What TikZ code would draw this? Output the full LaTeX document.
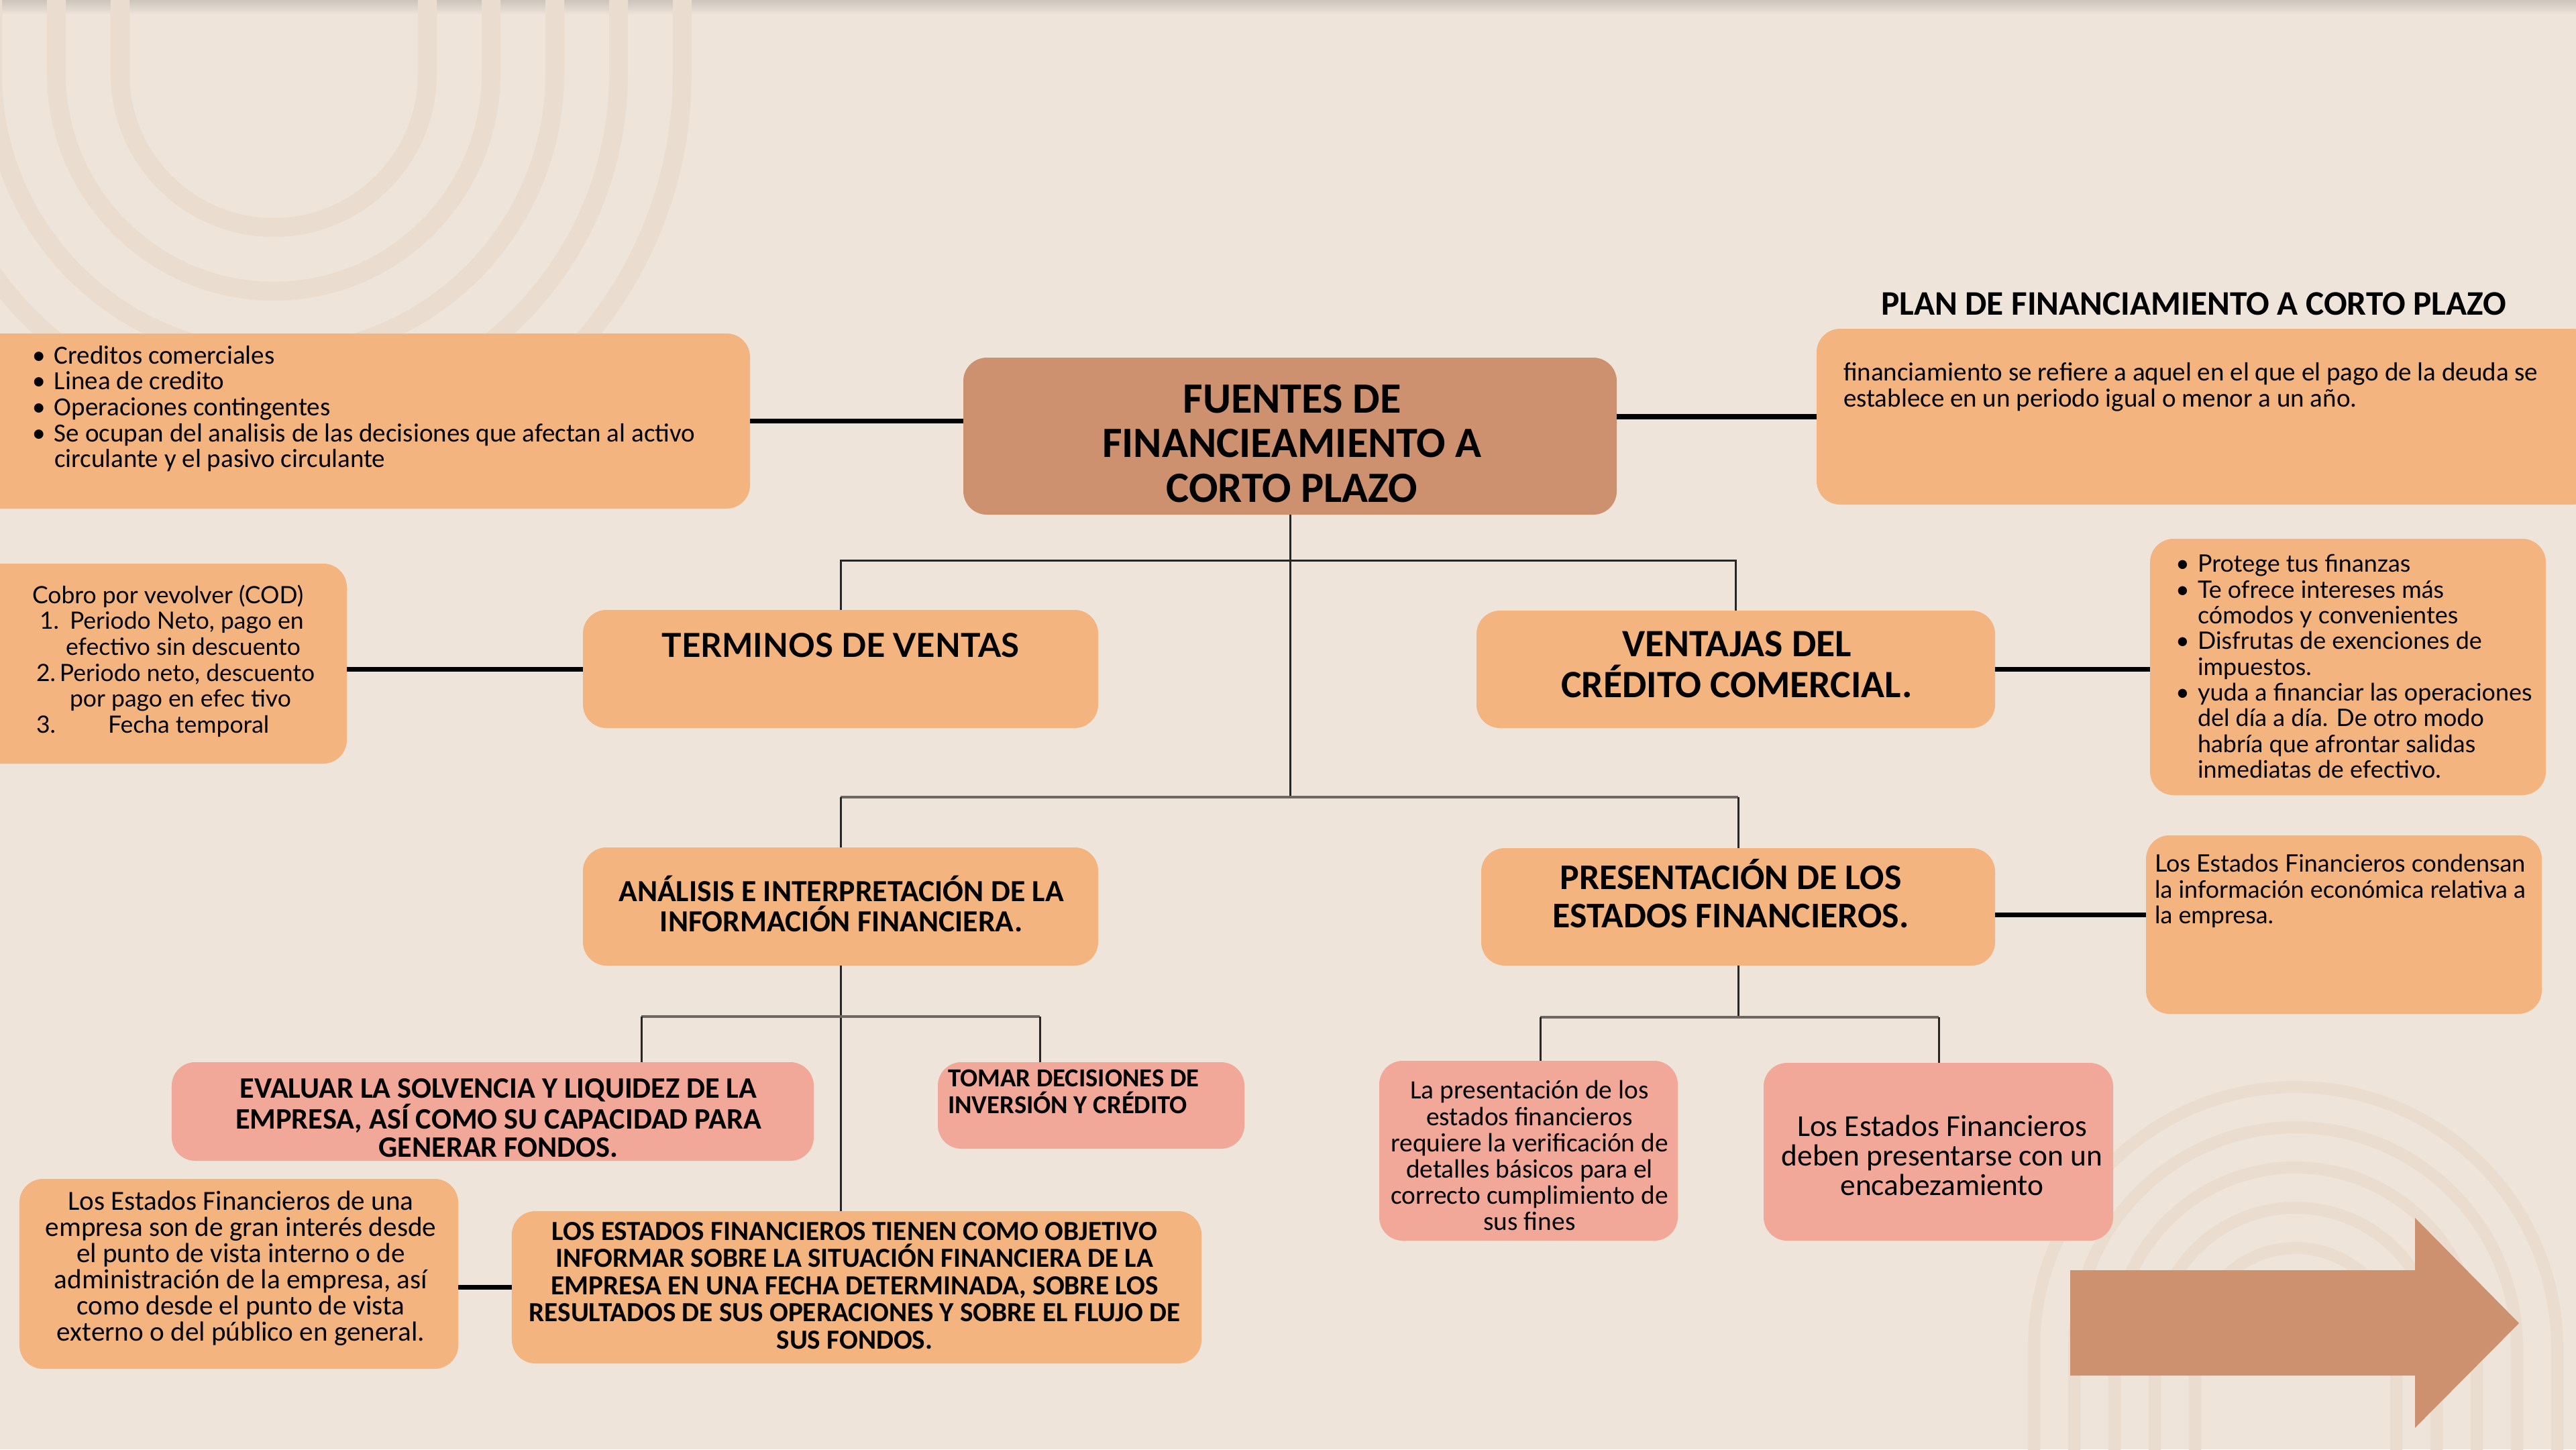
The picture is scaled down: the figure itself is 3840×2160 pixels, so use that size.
\documentclass[tikz,border=0pt]{standalone}
\usepackage{fontspec}
\setmainfont{Carlito}
\newfontfamily\geo{Lato}
\usetikzlibrary{calc}
\definecolor{bg}{HTML}{EEE4DA}
\definecolor{ringc}{HTML}{EADCCE}
\definecolor{orng}{HTML}{F3B47F}
\definecolor{tanbox}{HTML}{CD9170}
\definecolor{pinkbox}{HTML}{F2A898}
\definecolor{lgray}{HTML}{6E6762}
\newcommand\fs[2]{\fontsize{#1}{#2}\selectfont}
\newcommand\bulit{\makebox[0.33cm][l]{\textbullet}}
\newcommand\indnt{\hspace*{0.33cm}}
\newcommand\mkbox[6]{%
  \pgfmathsetmacro\mkbw{(#4-(#2))*0.01}%
  \pgfmathsetmacro\mkbh{(#5-(#3))*0.01}%
  \node[#6, minimum width=\mkbw cm, minimum height=\mkbh cm] (#1) at ({(#2+#4)/2},{(#3+#5)/2}) {};}
\begin{document}
\begin{tikzpicture}[x=0.01cm, y=-0.01cm,
  box/.style={rectangle, rounded corners=0.35cm, inner sep=0pt, outer sep=0pt, draw=none},
  ob/.style={box, fill=orng},
  pb/.style={box, fill=pinkbox},
  tb/.style={box, fill=tanbox},
  txt/.style={inner sep=0pt, outer sep=0pt, text=black},
  conn/.style={line width=2pt, black},
  tree/.style={line width=0.85pt, black!85},
  gbar/.style={line width=1.4pt, lgray},
  rng/.style={draw=ringc, line width=0.28cm},
  rngs/.style={draw=ringc, line width=0.18cm}]
\useasboundingbox (0,0) rectangle (3840,2160);
\clip (0,0) rectangle (3840,2160);
\fill[bg] (0,0) rectangle (3840,2160);
\shade[top color=black!14!bg, bottom color=bg] (0,0) rectangle (3840,22);
% background rings
\foreach \r in {229,324,419,514,609} {
  \draw[rng] ({408-\r},-40) -- ({408-\r},110) arc[start angle=180, end angle=0, radius=\r] -- ({408+\r},-40);
}
\foreach \r in {150,210,270,330,390} {
  \draw[rngs] ({3422-\r},2200) -- ({3422-\r},2010) arc[start angle=180, end angle=360, radius=\r] -- ({3422+\r},2200);
}
% arrow
\fill[tanbox] (3086,1893) -- (3600,1893) -- (3600,1815) -- (3755,1972) -- (3600,2128) -- (3600,2050) -- (3086,2050) -- cycle;
% boxes
\mkbox{bulL}{-40}{497}{1118}{758}{ob}
\mkbox{title}{1436}{533}{2410}{767}{tb}
\mkbox{defR}{2708}{490}{3870}{752}{ob}
\mkbox{cod}{-40}{840}{517}{1138}{ob}
\mkbox{term}{869}{909}{1637}{1085}{ob}
\mkbox{vent}{2201}{910}{2974}{1085}{ob}
\mkbox{venB}{3205}{803}{3795}{1185}{ob}
\mkbox{anal}{869}{1263}{1637}{1439}{ob}
\mkbox{pres}{2208}{1264}{2974}{1439}{ob}
\mkbox{edoR}{3199}{1245}{3789}{1511}{ob}
\mkbox{eval}{256}{1583}{1213}{1730}{pb}
\mkbox{tomar}{1398}{1583}{1855}{1712}{pb}
\mkbox{los}{763}{1805}{1791}{2032}{ob}
\mkbox{lbox}{29}{1757}{683}{2040}{ob}
\mkbox{pk1}{2056}{1581}{2501}{1849}{pb}
\mkbox{pk2}{2629}{1584}{3150}{1849}{pb}
% side connectors
\draw[conn] (bulL.east) -- (bulL.east -| title.west);
\draw[conn] (defR.west) -- (defR.west -| title.east);
\draw[conn] (term.west) -- (term.west -| cod.east);
\draw[conn] (vent.east) -- (vent.east -| venB.west);
\draw[conn] ([yshift=-0.12cm]pres.east) -- ([yshift=-0.12cm]pres.east -| edoR.west);
\draw[conn] (los.west) -- (los.west -| lbox.east);
% tree
\coordinate (j1) at (1923,835);
\coordinate (j2) at (1923,1188);
\draw[tree] (title.south) -- (j2);
\draw[tree] (term.north) -- (term.north |- j1) -- (vent.north |- j1) -- (vent.north);
\draw[gbar] (anal.north |- j2) -- (pres.north |- j2);
\draw[tree] (anal.north |- j2) -- (anal.north);
\draw[tree] (pres.north |- j2) -- (pres.north);
\coordinate (k1) at (956,1515);
\coordinate (k2) at (1550,1515);
\draw[tree] (anal.south) -- (anal.south |- los.north);
\draw[gbar] (k1) -- (k2);
\draw[tree] (k1) -- (k1 |- eval.north);
\draw[tree] (k2) -- (k2 |- tomar.north);
\coordinate (m1) at (2296,1516);
\coordinate (m2) at (2890,1516);
\draw[tree] (pres.south) -- (pres.south |- m1);
\draw[gbar] (m1) -- (m2);
\draw[tree] (m1) -- (m1 |- pk1.north);
\draw[tree] (m2) -- (m2 |- pk2.north);
% texts
\node[txt, anchor=west, align=left, font=\fs{11.1}{11}] (bulLT) at (48,609) {\bulit Creditos comerciales\\ \bulit Linea de credito\\ \bulit Operaciones contingentes\\ \bulit Se ocupan del analisis de las decisiones que afectan al activo\\ \indnt circulante y el pasivo circulante};
\node[txt, align=center, font=\bfseries\fs{18.3}{19}] (titleT) at (1926,661) {FUENTES DE\\FINANCIEAMIENTO A\\CORTO PLAZO};
\node[txt, font=\bfseries\fs{14.6}{16}] (planT) at (3270,453) {PLAN DE FINANCIAMIENTO A CORTO PLAZO};
\node[txt, anchor=west, align=left, font=\fs{11.1}{11}] (defRT) at (2748,577) {financiamiento se refiere a aquel en el que el pago de la deuda se\\establece en un periodo igual o menor a un año.};
\node[txt, font=\geo\bfseries\fs{14}{16}] (termT) at (1253,962) {TERMINOS DE VENTAS};
\node[txt, align=center, font=\bfseries\fs{16.4}{17.4}] (ventT) at (2589,990) {VENTAJAS DEL\\CRÉDITO COMERCIAL.};
\node[txt, anchor=west, align=left, font=\geo\fs{10.1}{11}] (codT) at (48,985) {Cobro por vevolver (COD)\\ \hspace*{0.11cm}\makebox[0.45cm][l]{1.}Periodo Neto, pago en\\ \hspace*{0.50cm}efectivo sin descuento\\ \hspace*{0.06cm}\makebox[0.35cm][l]{2.}Periodo neto, descuento\\ \hspace*{0.56cm}por pago en efec tivo\\ \hspace*{0.06cm}\makebox[1.07cm][l]{3.}Fecha temporal};
\node[txt, anchor=west, align=left, font=\geo\fs{10.2}{10.9}] (venBT) at (3243,993) {\bulit Protege tus finanzas\\ \bulit Te ofrece intereses más\\ \indnt cómodos y convenientes\\ \bulit Disfrutas de exenciones de\\ \indnt impuestos.\\ \bulit yuda a financiar las operaciones\\ \indnt del día a día. De otro modo\\ \indnt habría que afrontar salidas\\ \indnt inmediatas de efectivo.};
\node[txt, align=center, font=\bfseries\fs{13}{12.9}] (analT) at (1254,1347) {ANÁLISIS E INTERPRETACIÓN DE LA\\INFORMACIÓN FINANCIERA.};
\node[txt, align=center, font=\bfseries\fs{15.3}{16.2}] (presT) at (2580,1332) {PRESENTACIÓN DE LOS\\ESTADOS FINANCIEROS.};
\node[txt, anchor=west, align=left, font=\geo\fs{10.2}{10.9}] (edoRT) at (3212,1328) {Los Estados Financieros condensan\\la información económica relativa a\\la empresa.};
\node[txt, align=center, font=\bfseries\fs{12.6}{11.9}] (evalT) at (743,1666) {EVALUAR LA SOLVENCIA Y LIQUIDEZ DE LA\\EMPRESA, ASÍ COMO SU CAPACIDAD PARA\\GENERAR FONDOS.};
\node[txt, anchor=west, align=left, font=\bfseries\fs{11}{11.4}] (tomarT) at (1413,1627) {TOMAR DECISIONES DE\\INVERSIÓN Y CRÉDITO};
\node[txt, align=center, font=\bfseries\fs{11.7}{11.5}] (losT) at (1274,1916) {LOS ESTADOS FINANCIEROS TIENEN COMO OBJETIVO\\INFORMAR SOBRE LA SITUACIÓN FINANCIERA DE LA\\EMPRESA EN UNA FECHA DETERMINADA, SOBRE LOS\\RESULTADOS DE SUS OPERACIONES Y SOBRE EL FLUJO DE\\SUS FONDOS.};
\node[txt, align=center, font=\fs{11.7}{11.1}] (lboxT) at (359,1890) {Los Estados Financieros de una\\empresa son de gran interés desde\\el punto de vista interno o de\\administración de la empresa, así\\como desde el punto de vista\\externo o del público en general.};
\node[txt, align=center, font=\fs{11.2}{11.1}] (pk1T) at (2280,1722) {La presentación de los\\estados financieros\\requiere la verificación de\\detalles básicos para el\\correcto cumplimiento de\\sus fines};
\node[txt, align=center, font=\fs{12.9}{12.5}] (pk2T) at (2895,1722) {Los Estados Financieros\\deben presentarse con un\\encabezamiento};
\end{tikzpicture}
\end{document}
